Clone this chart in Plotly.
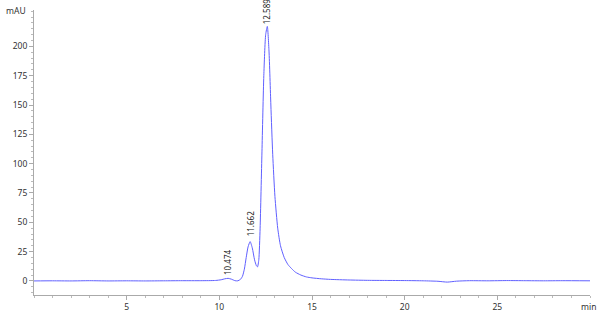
import plotly.graph_objects as go

# Chromatogram (time in min, signal in mAU)
time_min = [0, 1, 2, 3, 4, 5, 6, 7, 8, 9, 9.8, 10.1, 10.3, 10.474, 10.65, 10.85, 11.0,
            11.15, 11.25, 11.35, 11.45, 11.55, 11.662, 11.78, 11.9, 12.0, 12.06,
            12.13, 12.2, 12.3, 12.4, 12.5, 12.589, 12.68, 12.78, 12.88, 13.0,
            13.15, 13.3, 13.5, 13.7, 13.9, 14.1, 14.4, 14.7, 15.0, 15.5, 16.0,
            17.0, 18.0, 19.0, 20.0, 21.0, 21.8, 22.3, 22.8, 23.5, 24.5, 25.5,
            26.5, 27.5, 28.5, 30.0]
signal_mau = [0, 0.1, 0, 0.2, 0, 0.1, 0, 0.1, 0.2, 0.2, 0.4, 1.0, 1.8, 2.2, 1.5, 0.2, 0.1,
              1.5, 4.0, 10, 20, 29, 33.5, 28, 18, 13, 12,
              18, 45, 110, 175, 210, 217, 196, 150, 108, 72,
              45, 30, 20, 14, 10.5, 7.5, 5.0, 3.4, 2.6, 1.8, 1.3,
              0.8, 0.5, 0.4, 0.3, 0.1, -0.3, -1.0, -0.2, 0.2, 0.1, 0.3,
              0.2, 0.1, 0.2, 0.1]

peak_times = [10.474, 11.662, 12.589]
peak_heights = [2.2, 33.5, 217]
peak_labels = ["10.474", "11.662", "12.589"]

x_ticks = [5, 10, 15, 20, 25]
y_ticks = [0, 25, 50, 75, 100, 125, 150, 175, 200]

FONT = "Noto Sans"

fig = go.Figure()
fig.add_trace(go.Scatter(
    x=time_min, y=signal_mau, mode="lines",
    line=dict(color="rgb(96,96,255)", width=1, shape="spline", smoothing=0.6),
    hoverinfo="skip", showlegend=False,
))

for t, h, lab, ys in zip(peak_times, peak_heights, peak_labels, [1, 3, 0]):
    fig.add_annotation(
        x=t, y=h, text=lab, textangle=-90, showarrow=False,
        xanchor="center", yanchor="bottom", yshift=ys,
        font=dict(family=FONT, size=8, color="#222"),
    )

fig.add_annotation(
    xref="paper", yref="paper", x=0, y=1, text="mAU", showarrow=False,
    xanchor="right", yanchor="middle", xshift=-6,
    font=dict(family=FONT, size=8.5, color="#333"),
)
fig.add_annotation(
    xref="paper", yref="paper", x=1, y=0, text="min", showarrow=False,
    xanchor="right", yanchor="top", xshift=8, yshift=-4,
    font=dict(family=FONT, size=8.5, color="#333"),
)

fig.update_layout(
    width=600, height=317,
    margin=dict(l=34, r=10, t=10, b=22),
    paper_bgcolor="white", plot_bgcolor="white",
    font=dict(family=FONT, size=8.5, color="#333"),
    xaxis=dict(
        range=[0, 30], tickvals=x_ticks, showgrid=False, zeroline=False,
        automargin=False,
        showline=True, linecolor="#aaa", linewidth=1,
        ticks="outside", ticklen=4, tickcolor="#aaa",
        minor=dict(dtick=1, ticks="outside", ticklen=2, tickcolor="#bbb", tick0=0),
    ),
    yaxis=dict(
        range=[-12, 231], tickvals=y_ticks, showgrid=False, zeroline=False,
        automargin=False,
        showline=True, linecolor="#aaa", linewidth=1,
        ticks="outside", ticklen=4, tickcolor="#aaa",
        minor=dict(dtick=5, ticks="outside", ticklen=2, tickcolor="#bbb", tick0=0),
    ),
)

fig.write_html("out.html")
